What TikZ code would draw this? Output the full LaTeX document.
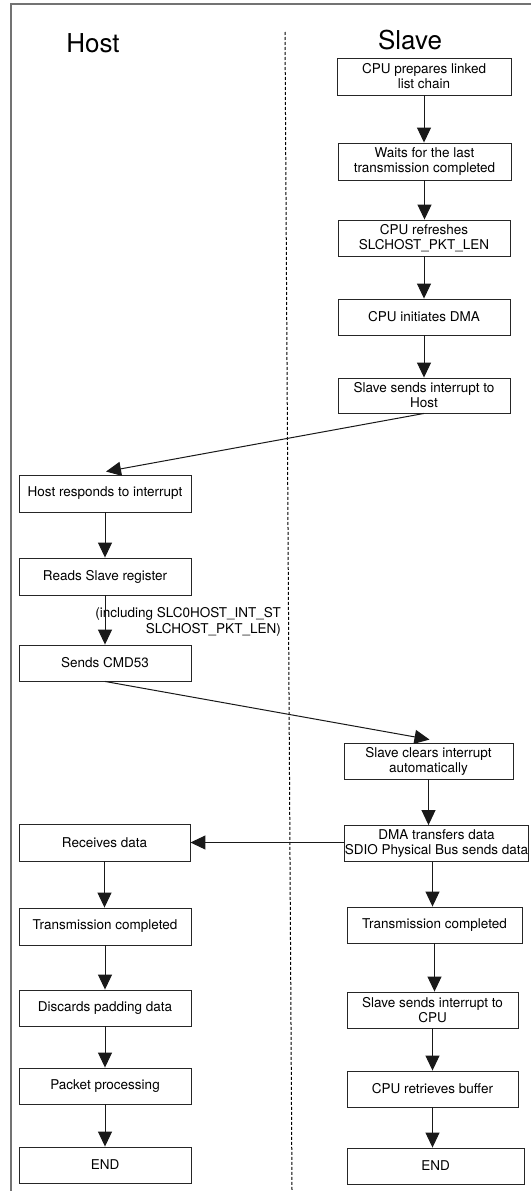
\documentclass[tikz,border=0pt]{standalone}
\usepackage{fontspec}
\setmainfont{TeX Gyre Heros}
\usetikzlibrary{arrows.meta,calc}
\tikzset{
  box/.style={draw=black!85, line width=0.9pt, inner sep=0pt, align=center,
    font=\fontsize{13.5}{15}\selectfont},
  flow/.style={-{Triangle[length=15pt,width=14pt]}, line width=1pt, draw=black!90},
  header/.style={font=\fontsize{26}{28}\selectfont, inner sep=0pt},
  divider/.style={line width=1pt, dash pattern=on 3pt off 2pt, draw=black},
  frame/.style={line width=1.2pt, draw=black!55},
  note/.style={align=right, inner sep=0pt, font=\fontsize{13.5}{16}\selectfont}
}
\begin{document}
\begin{tikzpicture}[x=1pt,y=-1pt]
\useasboundingbox (0,0) rectangle (530,1191);
\fill[white] (0,0) rectangle (530,1191);
% frame
\coordinate (fr1) at (531,4);
\coordinate (fr2) at (11,4);
\coordinate (fr3) at (11,1192);
\draw[frame] (fr1) -- (fr2) -- (fr3);
% divider
\coordinate (dtop) at (285,32);
\coordinate (dbot) at (292,1190);
\draw[divider] (dtop) -- (dbot);
% headers
\node[header] (hhost) at (93,43) {Host};
\node[header] (hslave) at (410,40) {Slave};
% slave column
\node[box, minimum width=174pt, minimum height=37pt] (s1) at (424,76.5) {CPU prepares linked\\list chain};
\node[box, minimum width=173pt, minimum height=37pt] (s2) at (424.5,161.5) {Waits for the last\\transmission completed};
\node[box, minimum width=172pt, minimum height=36pt] (s3) at (424,238) {CPU refreshes\\SLCHOST\_PKT\_LEN};
\node[box, minimum width=172pt, minimum height=36pt] (s4) at (424,317) {CPU initiates DMA};
\node[box, minimum width=172pt, minimum height=35pt] (s5) at (424,395.5) {Slave sends interrupt to\\Host};
% host column
\node[box, minimum width=172pt, minimum height=37pt] (h1) at (105,493.5) {Host responds to interrupt};
\node[box, minimum width=172pt, minimum height=37pt] (h2) at (105,576.5) {Reads Slave register};
\node[box, minimum width=172pt, minimum height=36pt] (h3) at (105,663) {Sends CMD53};
\node[note, anchor=east] (lab) at (281,622) {(including SLC0HOST\_INT\_ST\\SLCHOST\_PKT\_LEN)};
% slave lower
\node[box, minimum width=169pt, minimum height=36pt] (s6) at (428.5,761) {Slave clears interrupt\\automatically};
\node[box, minimum width=181pt, minimum height=36pt] (s7) at (436.5,843.5) {DMA transfers data\\SDIO Physical Bus sends data};
\node[box, minimum width=175pt, minimum height=36pt] (s8) at (434.5,925) {Transmission completed};
\node[box, minimum width=171pt, minimum height=36pt] (s9) at (432.5,1010) {Slave sends interrupt to\\CPU};
\node[box, minimum width=171pt, minimum height=36pt] (s10) at (432.5,1089) {CPU retrieves buffer};
\node[box, minimum width=177pt, minimum height=36pt] (s11) at (435.5,1166) {END};
% host lower
\node[box, minimum width=171pt, minimum height=37pt] (h4) at (104.5,842.5) {Receives data};
\node[box, minimum width=172pt, minimum height=37pt] (h5) at (105,926.5) {Transmission completed};
\node[box, minimum width=172pt, minimum height=36pt] (h6) at (105,1008) {Discards padding data};
\node[box, minimum width=172pt, minimum height=36pt] (h7) at (105,1086) {Packet processing};
\node[box, minimum width=172pt, minimum height=36pt] (h8) at (105,1165) {END};
% slave arrows
\draw[flow] (s1.south) -- (s1.south |- s2.north);
\draw[flow] (s2.south) -- (s2.south |- s3.north);
\draw[flow] (s3.south) -- (s3.south |- s4.north);
\draw[flow] (s4.south) -- (s4.south |- s5.north);
\draw[flow] (s5.south) -- ($(h1.north)+(1,-3)$);
% host arrows
\draw[flow] (h1.south) -- (h1.south |- h2.north);
\draw[flow] (h2.south) -- (h2.south |- h3.north);
\draw[flow] (h3.south) -- ($(s6.north)+(1,-3)$);
\draw[flow] (s6.south) -- (s6.south |- s7.north);
\draw[flow] (s7.west |- h4.east) -- (h4.east);
\draw[flow] ($(s7.south)+(-4,0)$) -- ($(s7.south |- s8.north)+(-4,0)$);
\draw[flow] (s8.south) -- (s8.south |- s9.north);
\draw[flow] (s9.south) -- (s9.south |- s10.north);
\draw[flow] (s10.south) -- (s10.south |- s11.north);
\draw[flow] (h4.south) -- (h4.south |- h5.north);
\draw[flow] (h5.south) -- (h5.south |- h6.north);
\draw[flow] (h6.south) -- (h6.south |- h7.north);
\draw[flow] (h7.south) -- (h7.south |- h8.north);
\end{tikzpicture}
\end{document}
